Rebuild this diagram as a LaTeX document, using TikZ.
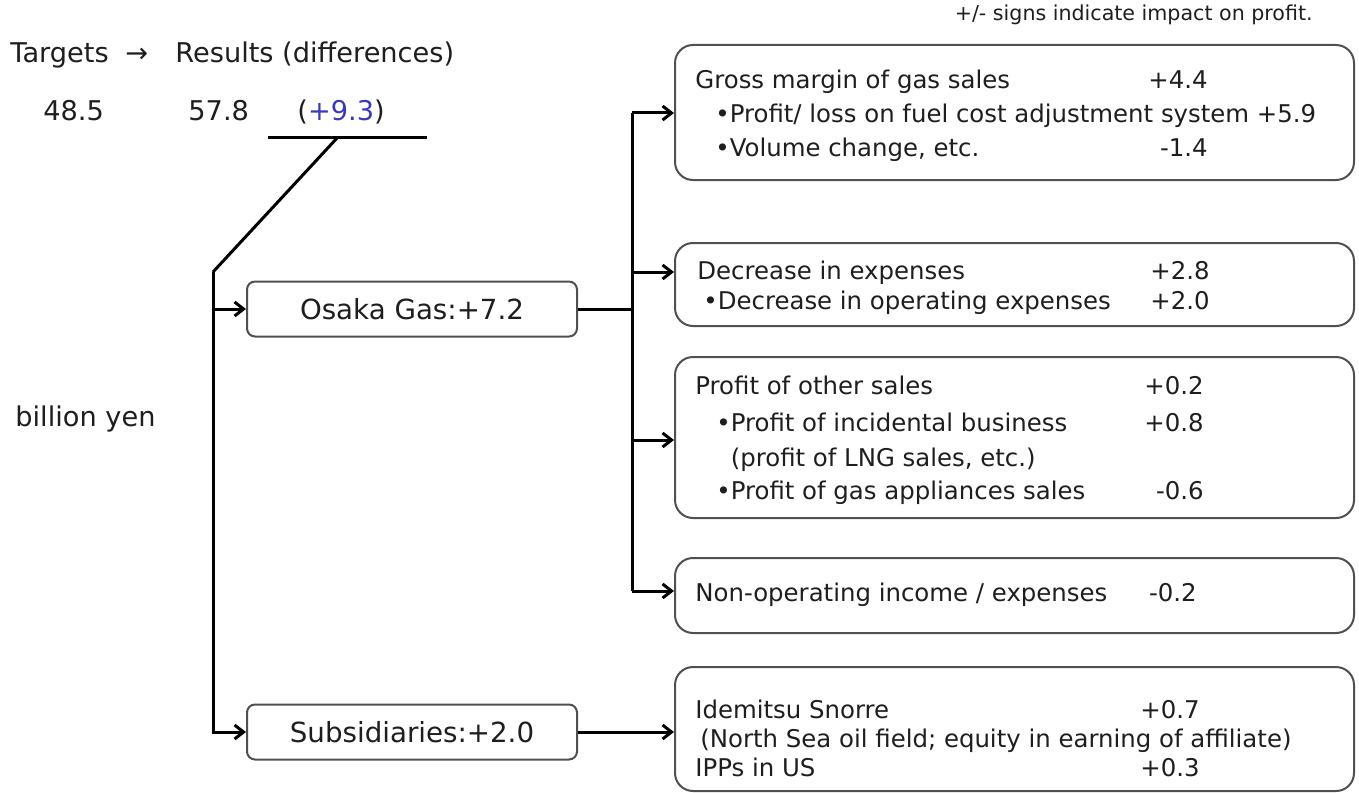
\documentclass[tikz,border=0pt]{standalone}
\usepackage{fontspec}
\setmainfont{DejaVu Sans}
\usetikzlibrary{arrows.meta}
\definecolor{diffblue}{RGB}{58,58,184}
\definecolor{boxline}{RGB}{80,80,80}
\definecolor{inktext}{RGB}{30,30,30}
\newcommand{\hdrfont}{\fontsize{13.6}{16}\selectfont}
\newcommand{\boxfont}{\fontsize{12.2}{14}\selectfont}
\newcommand{\keyfont}{\fontsize{13.85}{16}\selectfont}
\newcommand{\notefont}{\fontsize{10.3}{12}\selectfont}
\tikzset{
  conn/.style={line width=1.5pt},
  arr/.style={conn, -{Straight Barb[length=4.5pt,width=7pt]}},
  item/.style={rounded corners=9pt, draw=boxline, line width=1pt, minimum width=339.5pt, inner sep=0pt},
  unit/.style={rounded corners=4pt, draw=boxline, line width=1pt, minimum width=165pt, minimum height=27.5pt, font=\keyfont, text=inktext, inner sep=0pt},
  txt/.style={anchor=base west, inner sep=0pt, font=\boxfont, text=inktext},
  val/.style={anchor=base east, inner sep=0pt, font=\boxfont, text=inktext},
  hdr/.style={anchor=base west, inner sep=0pt, font=\hdrfont, text=inktext}
}
\begin{document}
\begin{tikzpicture}[x=0.5pt,y=-0.5pt]
\useasboundingbox (0,0) rectangle (1359,792);
% header
\node[anchor=base east, inner sep=0pt, font=\notefont, text=inktext] (note) at (1313,21) {+/- signs indicate impact on profit.};
\node[hdr] (tgt) at (10,63) {Targets};
\node[hdr] (tarr) at (125,63) {→};
\node[hdr] (res) at (175,63) {Results (differences)};
\node[hdr] (plan) at (43,120) {48.5};
\node[hdr] (act) at (188,120) {57.8};
\node[hdr] (diff) at (297,120) {(\textcolor{diffblue}{+9.3})};
\node[hdr] (unit) at (15,426) {billion yen};
% left branch
\coordinate (barL) at (268,137);
\coordinate (barR) at (427,137);
\coordinate (barM) at (338,137);
\coordinate (knee) at (213,272);
\node[unit] (osaka) at (412,309) {Osaka Gas:+7.2};
\node[unit] (subs) at (412,732) {Subsidiaries:+2.0};
\draw[conn] (barL) -- (barR);
\draw[conn] (barM) -- (knee);
\draw[arr] (knee) |- (subs.west);
\draw[arr] (knee |- osaka.west) -- (osaka.west);
% right boxes
\node[item, minimum height=67.5pt] (gross) at (1014.5,112.5) {};
\node[item, minimum height=41.5pt] (costs) at (1014.5,284.5) {};
\node[item, minimum height=80.5pt] (other) at (1014.5,437.5) {};
\node[item, minimum height=37.5pt] (nonop) at (1014.5,595.5) {};
\node[item, minimum height=62pt] (idem) at (1014.5,729) {};
\node[txt] (g0) at (695,89) {Gross margin of gas sales};
\node[val] (g0v) at (1208,89) {+4.4};
\node[txt] (g1) at (715,122) {•Profit/ loss on fuel cost adjustment system +5.9};
\node[txt] (g2) at (715,156) {•Volume change, etc.};
\node[val] (g2v) at (1208,156) {-1.4};
\node[txt] (c0) at (697,279) {Decrease in expenses};
\node[val] (c0v) at (1210,279) {+2.8};
\node[txt] (c1) at (703,309) {•Decrease in operating expenses};
\node[val] (c1v) at (1210,309) {+2.0};
\node[txt] (o0) at (695,394) {Profit of other sales};
\node[val] (o0v) at (1204,394) {+0.2};
\node[txt] (o1) at (716,431) {•Profit of incidental business};
\node[val] (o1v) at (1204,431) {+0.8};
\node[txt] (o2) at (716,466) {\phantom{•}(profit of LNG sales, etc.)};
\node[txt] (o3) at (716,499) {•Profit of gas appliances sales};
\node[val] (o3v) at (1204,499) {-0.6};
\node[txt] (n0) at (695,601) {Non-operating income / expenses};
\node[val] (n0v) at (1197,601) {-0.2};
\node[txt] (i0) at (695,718) {Idemitsu Snorre};
\node[val] (i0v) at (1200,718) {+0.7};
\node[txt] (i1) at (700,747) {(North Sea oil field; equity in earning of affiliate)};
\node[txt] (i2) at (695,776) {IPPs in US};
\node[val] (i2v) at (1200,776) {+0.3};
% bus to the boxes
\coordinate (bus1) at (632,113);
\coordinate (bus2) at (632,272);
\coordinate (bus3) at (632,440);
\coordinate (bus4) at (632,591);
\draw[conn] (osaka.east) -- (osaka.east -| bus1);
\draw[conn] (bus1) -- (bus4);
\foreach \b/\n in {bus1/gross, bus2/costs, bus3/other, bus4/nonop}
  \draw[arr] (\b) -- (\b -| \n.west);
\draw[arr] (subs.east) -- (subs.east -| idem.west);
\end{tikzpicture}
\end{document}
